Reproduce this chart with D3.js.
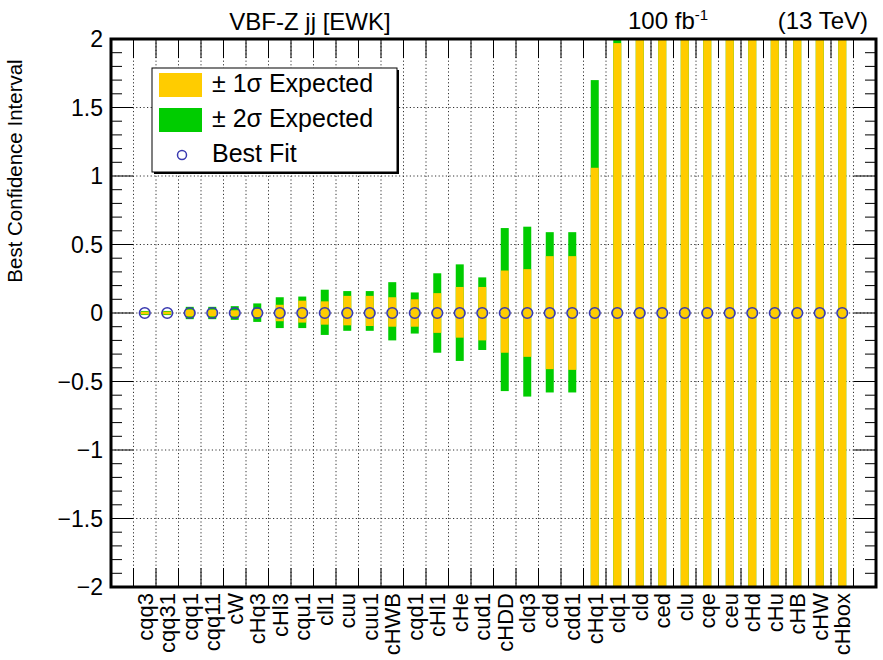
<!DOCTYPE html>
<html>
<head>
<meta charset="utf-8">
<script src="https://cdn.jsdelivr.net/npm/d3@7"></script>
<style>
  html, body { margin: 0; padding: 0; background: #fff; }
  svg { display: block; }
  text { font-family: "Liberation Sans", Arial, Helvetica, sans-serif; fill: #000; }
</style>
</head>
<body>
<svg id="chart" width="883" height="660"></svg>
<script>
// ---- data ----
const categories = ["cqq3","cqq31","cqq1","cqq11","cW","cHq3","cHl3","cqu1","cll1","cuu",
  "cuu1","cHWB","cqd1","cHl1","cHe","cud1","cHDD","clq3","cdd","cdd1",
  "cHq1","clq1","cld","ced","clu","cqe","ceu","cHd","cHu","cHB","cHW","cHbox"];
const bestFit = [0,0,0,0,0,0,0,0,0,0,0,0,0,0,0,0,0,0,0,0,0,0,0,0,0,0,0,0,0,0,0,0];
const sigma1Lo = [-0.01,-0.01,-0.025,-0.025,-0.025,-0.03,-0.06,-0.07,-0.085,-0.09,
  -0.095,-0.1,-0.1,-0.145,-0.18,-0.2,-0.29,-0.32,-0.41,-0.415,
  -2.5,-2.5,-3,-3,-3,-3,-3,-3,-3,-3,-3,-3];
const sigma1Hi = [0.01,0.01,0.025,0.025,0.02,0.03,0.06,0.09,0.085,0.125,
  0.125,0.115,0.1,0.145,0.19,0.19,0.31,0.32,0.415,0.415,
  1.06,1.97,3,3,3,3,3,3,3,3,3,3];
const sigma2Lo = [-0.015,-0.015,-0.045,-0.045,-0.05,-0.065,-0.11,-0.11,-0.16,-0.13,
  -0.13,-0.2,-0.15,-0.29,-0.35,-0.27,-0.57,-0.61,-0.58,-0.58,
  -3,-3,-4,-4,-4,-4,-4,-4,-4,-4,-4,-4];
const sigma2Hi = [0.015,0.015,0.045,0.045,0.05,0.07,0.115,0.12,0.17,0.16,
  0.16,0.225,0.15,0.29,0.355,0.26,0.62,0.63,0.59,0.59,
  1.70,2.5,4,4,4,4,4,4,4,4,4,4];
const yTickValues = [-2,-1.5,-1,-0.5,0,0.5,1,1.5,2];
const yTickLabels = ["\u22122","\u22121.5","\u22121","\u22120.5","0","0.5","1","1.5","2"];
const legendLabels = ["\u00B1 1\u03C3 Expected","\u00B1 2\u03C3 Expected","Best Fit"];

// ---- layout ----
const L = 111, R = 876, T = 39, B = 587;
const C1 = "#ffcc00", C2 = "#00cc00", CM = "#3a3ab0";
const svg = d3.select("#chart");
const nBins = categories.length + 2;
const x = d3.scaleLinear().domain([0, nBins]).range([L, R]);
const y = d3.scaleLinear().domain([-2, 2]).range([B, T]);
const cx = i => x(i + 1.5);

svg.append("defs").append("clipPath").attr("id","plotclip")
  .append("rect").attr("x", L).attr("y", T).attr("width", R - L).attr("height", B - T);

// grid
const grid = svg.append("g").attr("stroke", "#333").attr("stroke-width", 1).attr("stroke-dasharray", "1.2,2.4");
d3.range(1, nBins).forEach(k => {
  grid.append("line").attr("x1", x(k)).attr("x2", x(k)).attr("y1", T).attr("y2", B);
});
[-1.5,-1,-0.5,0,0.5,1,1.5].forEach(v => {
  grid.append("line").attr("x1", L).attr("x2", R).attr("y1", y(v)).attr("y2", y(v));
});

// bars
const bw = 8;
const bars = svg.append("g").attr("clip-path", "url(#plotclip)");
bars.selectAll("rect.s2").data(categories).join("rect").attr("class","s2")
  .attr("x", (d,i) => cx(i) - bw/2).attr("width", bw)
  .attr("y", (d,i) => y(sigma2Hi[i])).attr("height", (d,i) => y(sigma2Lo[i]) - y(sigma2Hi[i]))
  .attr("fill", C2);
bars.selectAll("rect.s1").data(categories).join("rect").attr("class","s1")
  .attr("x", (d,i) => cx(i) - bw/2).attr("width", bw)
  .attr("y", (d,i) => y(sigma1Hi[i])).attr("height", (d,i) => y(sigma1Lo[i]) - y(sigma1Hi[i]))
  .attr("fill", C1);
bars.selectAll("circle").data(categories).join("circle")
  .attr("cx", (d,i) => cx(i)).attr("cy", (d,i) => y(bestFit[i])).attr("r", 5.3)
  .attr("fill", "none").attr("stroke", CM).attr("stroke-width", 1.6);

// ticks
const ticks = svg.append("g").attr("stroke", "#000").attr("stroke-width", 1);
d3.range(1, nBins).forEach(k => {
  ticks.append("line").attr("x1", x(k)).attr("x2", x(k)).attr("y1", T).attr("y2", T + 19);
  ticks.append("line").attr("x1", x(k)).attr("x2", x(k)).attr("y1", B).attr("y2", B - 19);
});
d3.range(-20, 21).forEach(k => {
  const v = k / 10;
  const len = (k % 5 === 0) ? 22 : 11;
  ticks.append("line").attr("x1", L).attr("x2", L + len).attr("y1", y(v)).attr("y2", y(v));
  ticks.append("line").attr("x1", R).attr("x2", R - len).attr("y1", y(v)).attr("y2", y(v));
});

// frame
svg.append("rect").attr("x", L).attr("y", T).attr("width", R - L).attr("height", B - T)
  .attr("fill", "none").attr("stroke", "#000").attr("stroke-width", 3);

// y tick labels
svg.append("g").selectAll("text").data(yTickValues).join("text")
  .attr("x", 103).attr("y", d => y(d)).attr("dy", "0.36em")
  .attr("text-anchor", "end").attr("font-size", 23)
  .text((d,i) => yTickLabels[i]);

// x labels
svg.append("g").selectAll("text").data(categories).join("text")
  .attr("transform", (d,i) => `translate(${cx(i)},593) rotate(-90)`)
  .attr("dy", "0.36em").attr("text-anchor", "end").attr("font-size", 22)
  .text(d => d);

// axis title
svg.append("text").attr("transform", "translate(22,171) rotate(-90)")
  .attr("text-anchor", "middle").attr("font-size", 20.5).text("Best Confidence Interval");

// headers
svg.append("text").attr("x", 310).attr("y", 30).attr("text-anchor", "middle")
  .attr("font-size", 24).text("VBF-Z jj [EWK]");
const lumi = svg.append("text").attr("x", 628).attr("y", 29).attr("font-size", 24);
lumi.append("tspan").text("100 fb");
lumi.append("tspan").attr("dy", -9).attr("font-size", 15).text("-1");
svg.append("text").attr("x", 868).attr("y", 29).attr("text-anchor", "end")
  .attr("font-size", 24).text("(13 TeV)");

// legend
const lg = svg.append("g");
lg.append("rect").attr("x", 154).attr("y", 70).attr("width", 245).attr("height", 104).attr("fill", "#000");
lg.append("rect").attr("x", 152).attr("y", 68).attr("width", 245).attr("height", 104)
  .attr("fill", "#fff").attr("stroke", "#000").attr("stroke-width", 1);
lg.append("rect").attr("x", 159).attr("y", 73).attr("width", 43).attr("height", 24).attr("fill", C1);
lg.append("rect").attr("x", 159).attr("y", 108).attr("width", 43).attr("height", 24).attr("fill", C2);
lg.append("circle").attr("cx", 182).attr("cy", 155).attr("r", 4.5)
  .attr("fill", "none").attr("stroke", CM).attr("stroke-width", 1.5);
lg.selectAll("text").data(legendLabels).join("text")
  .attr("x", 212).attr("y", (d,i) => 92 + i * 35).attr("font-size", 25).text(d => d);
</script>
</body>
</html>
